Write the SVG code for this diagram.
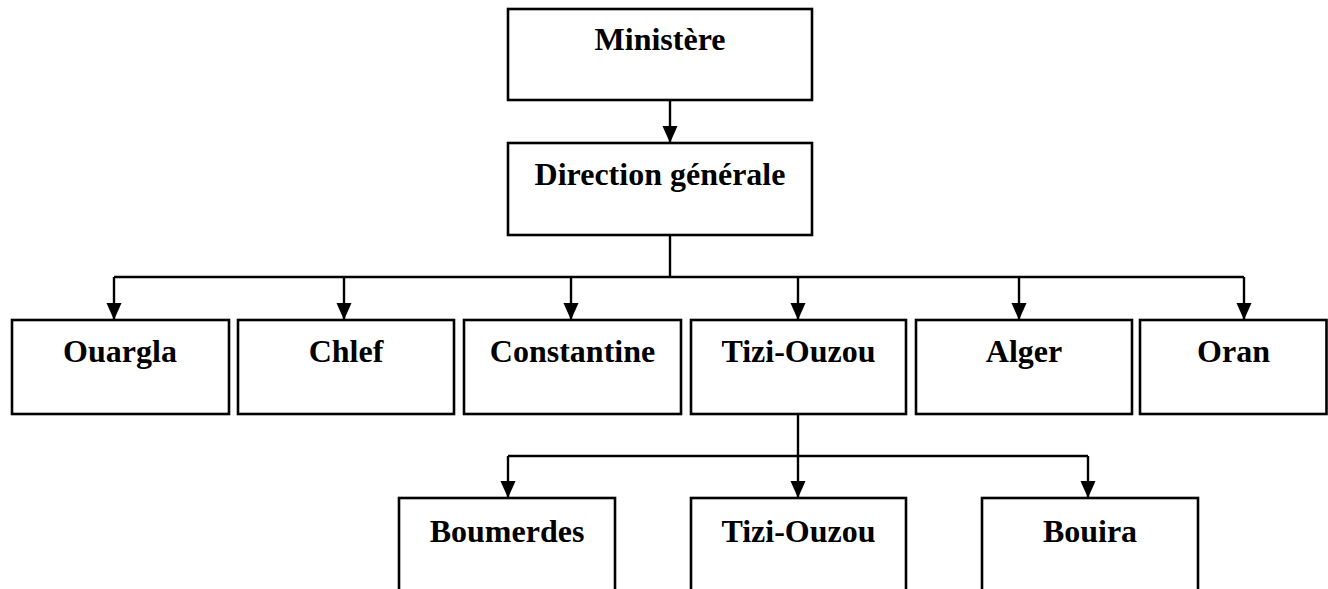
<svg xmlns="http://www.w3.org/2000/svg" width="1328" height="589" viewBox="0 0 1328 589">
<style>
.box{fill:#fff;stroke:#000;stroke-width:2.6}
.lbl{font-family:"Liberation Serif","Times New Roman",serif;font-weight:bold;font-size:32px;fill:#000;text-anchor:middle}
.con{fill:none;stroke:#000;stroke-width:2.4}
</style>
<defs>
<marker id="arr" markerUnits="userSpaceOnUse" markerWidth="17" markerHeight="17" viewBox="0 0 17 15" refX="17" refY="7.5" orient="auto">
<path d="M0,0 L17,7.5 L0,15 Z" fill="#000"/>
</marker>
</defs>
<rect width="1328" height="589" fill="#fff"/>
<g id="connectors">
<path class="con" d="M670,100 V143" marker-end="url(#arr)"/>
<path class="con" d="M670,235 V277 M114,277 H1244"/>
<path class="con" d="M114,277 V320" marker-end="url(#arr)"/>
<path class="con" d="M344,277 V320" marker-end="url(#arr)"/>
<path class="con" d="M571,277 V320" marker-end="url(#arr)"/>
<path class="con" d="M798,277 V320" marker-end="url(#arr)"/>
<path class="con" d="M1019,277 V320" marker-end="url(#arr)"/>
<path class="con" d="M1244,277 V320" marker-end="url(#arr)"/>
<path class="con" d="M798,414 V498" marker-end="url(#arr)"/>
<path class="con" d="M508,456 H1088"/>
<path class="con" d="M508,456 V498" marker-end="url(#arr)"/>
<path class="con" d="M1088,456 V498" marker-end="url(#arr)"/>
</g>
<g id="ministere"><rect class="box" x="508" y="9" width="304" height="91"/><text class="lbl" x="660" y="50">Ministère</text></g>
<g id="direction"><rect class="box" x="508" y="143" width="304" height="92"/><text class="lbl" x="660" y="185">Direction générale</text></g>
<g id="ouargla"><rect class="box" x="12" y="320" width="217" height="94"/><text class="lbl" x="120" y="362">Ouargla</text></g>
<g id="chlef"><rect class="box" x="238" y="320" width="216" height="94"/><text class="lbl" x="346" y="362">Chlef</text></g>
<g id="constantine"><rect class="box" x="464" y="320" width="217" height="94"/><text class="lbl" x="572.5" y="362">Constantine</text></g>
<g id="tizi-ouzou"><rect class="box" x="691" y="320" width="215" height="94"/><text class="lbl" x="798.5" y="362">Tizi-Ouzou</text></g>
<g id="alger"><rect class="box" x="916" y="320" width="216" height="94"/><text class="lbl" x="1024" y="362">Alger</text></g>
<g id="oran"><rect class="box" x="1140" y="320" width="186.5" height="94"/><text class="lbl" x="1233.5" y="362">Oran</text></g>
<g id="boumerdes"><rect class="box" x="399" y="498" width="216" height="100"/><text class="lbl" x="507" y="542">Boumerdes</text></g>
<g id="tizi-ouzou-2"><rect class="box" x="691" y="498" width="215" height="100"/><text class="lbl" x="798.5" y="542">Tizi-Ouzou</text></g>
<g id="bouira"><rect class="box" x="982" y="498" width="216" height="100"/><text class="lbl" x="1090" y="542">Bouira</text></g>
</svg>
